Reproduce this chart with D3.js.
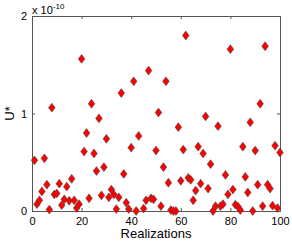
<!DOCTYPE html>
<html>
<head>
<meta charset="utf-8">
<script src="https://cdn.jsdelivr.net/npm/d3@7"></script>
<style>
  body { margin: 0; background: #fff; }
  text { font-family: "Liberation Sans", Arial, sans-serif; }
</style>
</head>
<body>
<svg width="292" height="242"></svg>
<script>
// realization number and U* value (in units of 1e-10)
const realizations = [1,2,3,4,5,6,7,8,9,10,11,12,13,14,15,16,17,18,19,20,
  21,22,23,24,25,26,27,28,29,30,31,32,33,34,35,36,37,38,39,40,
  41,42,43,45,46,47,48,49,50,51,52,53,54,55,56,57,58,59,60,61,
  62,63,64,65,66,67,68,69,70,71,72,73,74,75,76,77,78,79,80,81,
  82,83,84,85,86,87,88,89,90,91,92,93,94,95,96,97,98,99,100];
const uValues = [0.52,0.07,0.11,0.20,0.54,0.27,0.015,1.06,0.17,0.18,
  0.28,0.06,0.12,0.25,0.105,0.33,0.11,0.03,0.07,1.56,
  0.61,0.80,0.13,1.10,0.59,0.41,0.95,0.16,0.45,0.74,
  0.14,0.22,0.17,0.02,0.14,1.21,0.38,0.085,0.02,0.65,
  1.33,0.0,0.77,0.025,0.11,1.44,0.13,0.12,0.62,1.01,
  0.05,0.45,1.33,0.29,0.01,0.0,0.0,0.86,0.31,0.63,
  1.80,0.34,0.32,0.11,0.21,0.66,0.28,0.59,0.97,0.23,
  0.48,0.0,0.05,0.87,0.05,0.07,0.37,0.17,1.66,0.22,
  0.065,0.046,0.01,0.66,0.35,0.19,0.91,0.0,0.62,0.27,
  1.10,0.05,1.69,0.27,0.23,0.055,0.67,0.03,0.60];
const xTicks = [0, 20, 40, 60, 80, 100];
const yTicks = [0, 1, 2];

const svg = d3.select('svg');
const margin = { top: 16, right: 12, bottom: 31, left: 32 };
const width = +svg.attr('width');
const height = +svg.attr('height');
const innerWidth = width - margin.left - margin.right;
const innerHeight = height - margin.top - margin.bottom;

const xScale = d3.scaleLinear().domain([0, 100]).range([0, innerWidth]);
const yScale = d3.scaleLinear().domain([0, 2]).range([innerHeight, 0]);

const g = svg.append('g')
  .attr('transform', `translate(${margin.left}, ${margin.top})`);

const axisColor = '#555';

// bottom and left axes, ticks pointing inward
g.append('g')
  .attr('transform', `translate(0, ${innerHeight})`)
  .call(d3.axisBottom(xScale).tickValues(xTicks).tickSize(-3).tickSizeOuter(0).tickPadding(6));
const yAxis = g.append('g')
  .call(d3.axisLeft(yScale).tickValues(yTicks).tickSize(-3).tickSizeOuter(0).tickPadding(5).tickFormat(d3.format('d')));
// top and right mirror ticks (box), no labels
const topAxis = g.append('g')
  .call(d3.axisTop(xScale).tickValues(xTicks).tickSize(-3).tickSizeOuter(0));
const rightAxis = g.append('g')
  .attr('transform', `translate(${innerWidth}, 0)`)
  .call(d3.axisRight(yScale).tickValues(yTicks).tickSize(-3).tickSizeOuter(0));
topAxis.selectAll('.tick text').remove();
rightAxis.selectAll('.tick text').remove();

g.selectAll('.domain').attr('stroke', axisColor);
g.selectAll('.tick line').attr('stroke', axisColor);
g.selectAll('.tick text').attr('fill', '#000').style('font-size', '11px');
yAxis.selectAll('.tick text').attr('dy', '0.35em');

// markers: diamonds
const pts = realizations.map((r, i) => ({ r, v: uValues[i] }));
const dw = 3.3, dh = 4.4;
g.append('g')
  .selectAll('path')
  .data(pts)
  .join('path')
  .attr('d', d => {
    const cx = xScale(d.r), cy = yScale(d.v);
    return `M${cx},${cy - dh}L${cx + dw},${cy}L${cx},${cy + dh}L${cx - dw},${cy}Z`;
  })
  .attr('fill', '#ff0000')
  .attr('stroke', '#444')
  .attr('stroke-width', 0.6);

// axis labels
svg.append('text')
  .attr('x', margin.left + innerWidth / 2)
  .attr('y', 238)
  .attr('text-anchor', 'middle')
  .style('font-size', '13px')
  .text('Realizations');

svg.append('text')
  .attr('transform', `translate(14, ${margin.top + innerHeight / 2}) rotate(-90)`)
  .attr('text-anchor', 'middle')
  .style('font-size', '13px')
  .text('U*');

// exponent label
const expo = svg.append('text')
  .attr('x', 32)
  .attr('y', 14)
  .style('font-size', '11px');
expo.append('tspan').text('x 10');
expo.append('tspan').attr('dy', -5).style('font-size', '8px').text('-10');
</script>
</body>
</html>
